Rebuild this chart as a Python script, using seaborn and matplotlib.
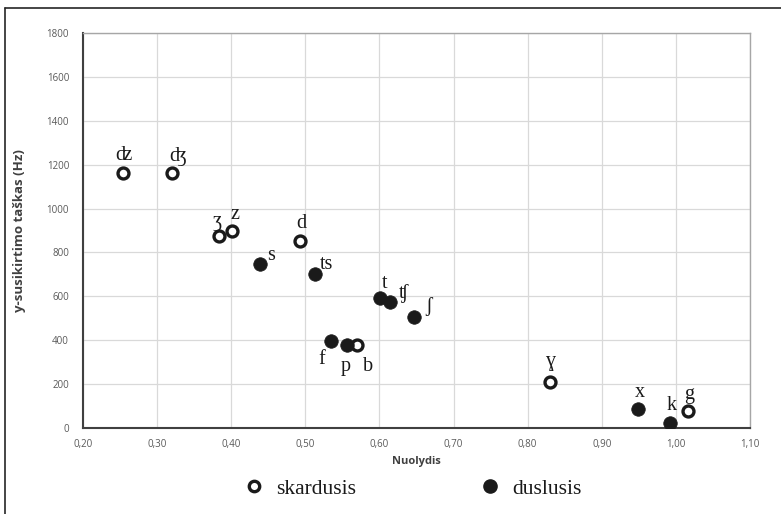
import matplotlib
matplotlib.use("Agg")
import matplotlib.pyplot as plt
from matplotlib.lines import Line2D
import numpy as np
import pandas as pd
import seaborn as sns

# sound labels, slope (Nuolydis) and y-intercept (Hz)
labels = ["ʣ", "ʤ", "ʒ", "z", "d", "b", "ɣ", "g",
          "s", "ts", "t", "ʧ", "ʃ", "f", "p", "x", "k"]
slope = [0.254, 0.320, 0.383, 0.401, 0.493, 0.570, 0.830, 1.016,
         0.439, 0.513, 0.601, 0.614, 0.647, 0.535, 0.556, 0.949, 0.992]
intercept = [1160, 1160, 873, 897, 854, 377, 208, 76,
             749, 703, 594, 573, 508, 395, 377, 88, 25]
voicing = ["skardusis"] * 8 + ["duslusis"] * 9

# label offsets in points (dx, dy)
offsets = {
    "ʣ": (0, 13), "ʤ": (4, 12), "ʒ": (-1, 11), "z": (2, 12), "d": (1, 12),
    "b": (8, -15), "ɣ": (0, 15), "g": (1, 12),
    "s": (8, 6), "ts": (8, 7), "t": (3, 10), "ʧ": (10, 6), "ʃ": (10, 7),
    "f": (-7, -13), "p": (-1, -15), "x": (1, 12), "k": (1, 12),
}

df = pd.DataFrame({"label": labels, "slope": slope,
                   "intercept": intercept, "voicing": voicing})

sns.set_theme(style="white")
plt.rcParams["font.family"] = ["Open Sans", "DejaVu Sans"]

fig = plt.figure(figsize=(7.81, 5.14), dpi=100)
ax = fig.add_axes([83 / 781, 1 - 428 / 514, (750 - 83) / 781, (428 - 33) / 514])

voiced = df[df["voicing"] == "skardusis"]
voiceless = df[df["voicing"] == "duslusis"]
sns.scatterplot(data=voiced, x="slope", y="intercept", ax=ax, s=62,
                marker="o", color="white", edgecolor="#1a1a1a", linewidth=2.4,
                zorder=3)
sns.scatterplot(data=voiceless, x="slope", y="intercept", ax=ax, s=95,
                marker="o", color="#1a1a1a", edgecolor="#1a1a1a", linewidth=0.5,
                zorder=3)

serif = ["Liberation Serif", "DejaVu Serif"]
for row in df.itertuples(index=False):
    dx, dy = offsets[row.label]
    ax.annotate(row.label, (row.slope, row.intercept), xytext=(dx, dy),
                textcoords="offset points", ha="center", va="center",
                fontsize=14.5, family=serif, color="#1a1a1a")

ax.set_xlim(0.2, 1.1)
ax.set_ylim(0, 1800)
xt = np.round(np.arange(0.2, 1.1001, 0.1), 2)
ax.set_xticks(xt)
ax.set_xticklabels([f"{v:.2f}".replace(".", ",") for v in xt])
ax.set_yticks(np.arange(0, 1801, 200))
ax.tick_params(axis="both", length=0, labelsize=7, labelcolor="#595959")
ax.tick_params(axis="x", pad=8)
ax.tick_params(axis="y", pad=10)
ax.grid(True, color="#d9d9d9", linewidth=0.9)
ax.set_axisbelow(True)
for side in ["top", "right"]:
    ax.spines[side].set_color("#a6a6a6")
    ax.spines[side].set_linewidth(1.0)
for side in ["left", "bottom"]:
    ax.spines[side].set_color("#404040")
    ax.spines[side].set_linewidth(1.5)

ax.set_xlabel("Nuolydis", fontsize=8, fontweight="bold", color="#404040", labelpad=4)
ax.set_ylabel("y-susikirtimo taškas (Hz)", fontsize=9.5, fontweight="bold",
              color="#404040", labelpad=15)

# two separate legend entries, placed like the original
entries = [
    ("skardusis", 243, dict(markersize=7.5, markerfacecolor="white",
                            markeredgecolor="#1a1a1a", markeredgewidth=2.4)),
    ("duslusis", 479, dict(markersize=9.5, markerfacecolor="#1a1a1a",
                           markeredgecolor="#1a1a1a")),
]
for text, x0, style in entries:
    handle = Line2D([], [], marker="o", linestyle="", **style)
    leg = fig.legend([handle], [text], loc="center left",
                     bbox_to_anchor=(x0 / 781, 1 - 489 / 514), frameon=False,
                     prop={"family": serif, "size": 15.5}, handlelength=1.0,
                     handletextpad=0.55, borderpad=0, borderaxespad=0,
                     labelcolor="#1a1a1a")

# outer chart frame
fig.add_artist(Line2D([5 / 781, 5 / 781], [0, 1 - 8 / 514],
                      transform=fig.transFigure, color="#262626", linewidth=1.2))
fig.add_artist(Line2D([5 / 781, 1], [1 - 8 / 514, 1 - 8 / 514],
                      transform=fig.transFigure, color="#262626", linewidth=1.2))

fig.savefig("out.png", dpi=100)
